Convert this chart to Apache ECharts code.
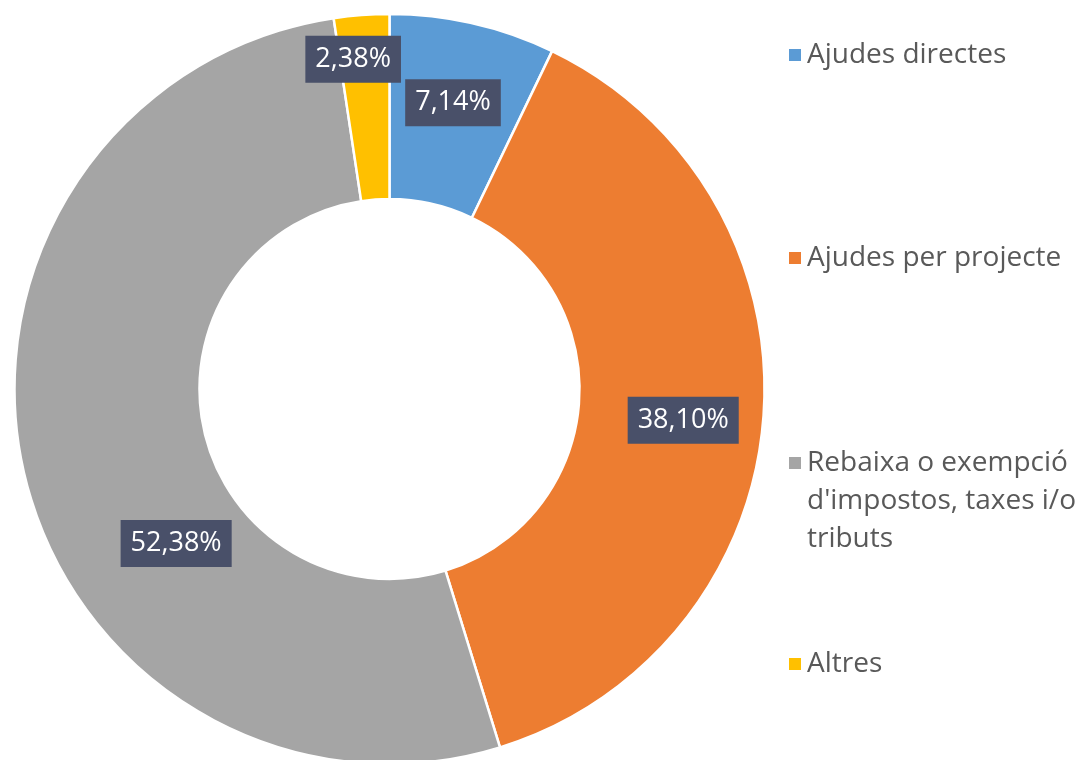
<!DOCTYPE html>
<html>
<head>
<meta charset="utf-8">
<script src="https://cdn.jsdelivr.net/npm/echarts@6/dist/echarts.min.js"></script>
<style>
  html, body { margin: 0; padding: 0; background: #fff; }
  #chart { width: 1084px; height: 760px; }
</style>
</head>
<body>
<div id="chart"></div>
<script>
const categories = [
  'Ajudes directes',
  'Ajudes per projecte',
  "Rebaixa o exempció d'impostos, taxes i/o tributs",
  'Altres'
];
const shares = [7.14, 38.10, 52.38, 2.38];
const colors = ['#5B9BD5', '#ED7D31', '#A5A5A5', '#FFC000'];

// label nudges, Excel moved these boxes a bit off the ring middle
const labelNudge = [[0, -8], [9, 10], [65, 91], [-15, -45]];
// legend rows (top of each block)
const legendTops = [36, 239, 368, 645];

const chart = echarts.init(document.getElementById('chart'));

const legendFont = {
  fontFamily: 'Open Sans',
  fontSize: 28,
  lineHeight: 38,
  color: '#595959'
};

// the long name wraps on 3 lines; two blank lines on top keep the marker on line 1
function wrapLong(n) {
  return '\n\n' + n.replace(" d'", "\nd'").replace(' tributs', '\ntributs');
}

const legends = categories.map(function (name, i) {
  return {
    data: [name],
    left: 787,
    top: legendTops[i],
    padding: 0,
    orient: 'vertical',
    itemWidth: 14,
    itemHeight: 14,
    icon: 'rect',
    selectedMode: false,
    formatter: i === 2 ? wrapLong : '{name}',
    textStyle: legendFont
  };
});

var option = {
  backgroundColor: '#ffffff',
  color: colors,
  animation: false,
  legend: legends,
  series: [{
    type: 'pie',
    center: [389.5, 389],
    radius: [190, 375],
    startAngle: 90,
    clockwise: true,
    avoidLabelOverlap: false,
    itemStyle: {
      borderColor: '#ffffff',
      borderWidth: 2.5
    },
    label: {
      show: true,
      position: 'inside',
      formatter: function (p) { return p.value.toFixed(2).replace('.', ',') + '%'; },
      fontFamily: 'Open Sans',
      fontSize: 27,
      lineHeight: 29,
      color: '#ffffff',
      backgroundColor: '#495069',
      padding: [9, 10]
    },
    labelLine: { show: false },
    emphasis: { disabled: true },
    data: categories.map(function (name, i) {
      return {
        name: name,
        value: shares[i],
        label: { offset: labelNudge[i] }
      };
    })
  }]
};

chart.setOption(option);
</script>
</body>
</html>
